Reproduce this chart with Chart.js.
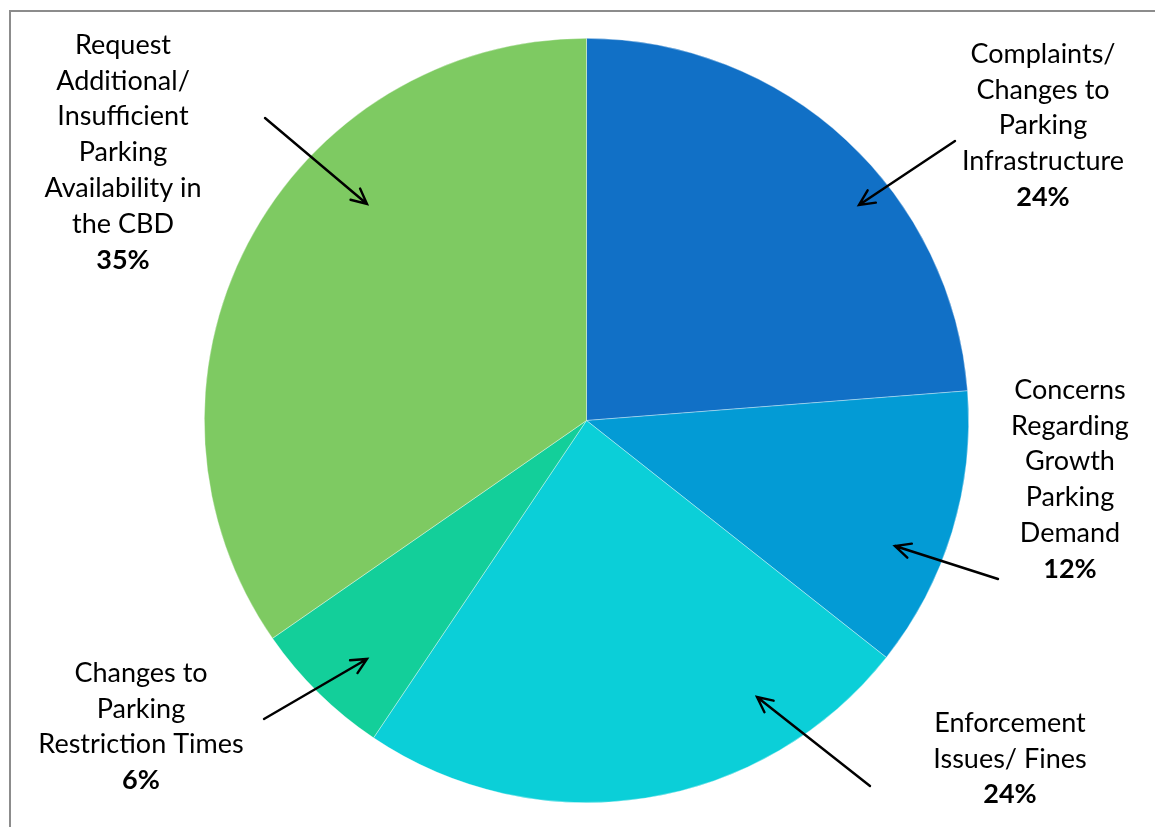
<!DOCTYPE html>
<html>
<head>
<meta charset="utf-8">
<title>Parking feedback</title>
<script src="https://cdn.jsdelivr.net/npm/chart.js@4/dist/chart.umd.min.js"></script>
<style>
  html, body { margin: 0; padding: 0; background: #fff; }
  #wrap { width: 1155px; height: 827px; position: relative; }
</style>
</head>
<body>
<div id="wrap"><canvas id="chart" width="1155" height="827"></canvas></div>
<script>
// categories (multi-line labels as drawn) and their shares
const categories = [
  ['Complaints/', 'Changes to', 'Parking', 'Infrastructure'],
  ['Concerns', 'Regarding', 'Growth', 'Parking', 'Demand'],
  ['Enforcement', 'Issues/ Fines'],
  ['Changes to', 'Parking', 'Restriction Times'],
  ['Request', 'Additional/', 'Insufficient', 'Parking', 'Availability in', 'the CBD']
];
const shares = [24, 12, 24, 6, 35];
const sliceColors = ['#1170C6', '#039BD5', '#0BCFD8', '#13CF9A', '#7ECA62'];

// where each callout text sits and where its arrow runs (tail -> head)
const callouts = [
  { x: 1043, y: 54,  tail: [955, 141], head: [859, 205] },
  { x: 1070, y: 390, tail: [998, 579], head: [895, 546] },
  { x: 1010, y: 723, tail: [870, 786], head: [757, 697] },
  { x: 141,  y: 673, tail: [264, 719], head: [367, 659] },
  { x: 123,  y: 45,  tail: [265, 118], head: [367, 204] }
];

const FONT = 'Lato, "Open Sans", sans-serif';
const FONT_PX = 27;
const LINE_H = 35.8;

function arrow(ctx, t, h) {
  const ang = Math.atan2(h[1] - t[1], h[0] - t[0]);
  const len = 17, spread = 0.45;
  ctx.beginPath();
  ctx.moveTo(t[0], t[1]);
  ctx.lineTo(h[0], h[1]);
  ctx.moveTo(h[0] - len * Math.cos(ang - spread), h[1] - len * Math.sin(ang - spread));
  ctx.lineTo(h[0], h[1]);
  ctx.lineTo(h[0] - len * Math.cos(ang + spread), h[1] - len * Math.sin(ang + spread));
  ctx.stroke();
}

const frame = {
  id: 'frame',
  beforeDraw(chart) {
    const ctx = chart.ctx;
    ctx.save();
    ctx.fillStyle = '#fff';
    ctx.fillRect(0, 0, chart.width, chart.height);
    ctx.strokeStyle = '#8c8c8c';
    ctx.lineWidth = 2;
    ctx.beginPath();
    ctx.moveTo(10, chart.height + 5);
    ctx.lineTo(10, 11);
    ctx.lineTo(chart.width + 5, 11);
    ctx.stroke();
    ctx.restore();
  }
};

const calloutLabels = {
  id: 'calloutLabels',
  afterDraw(chart) {
    const ctx = chart.ctx;
    const values = chart.data.datasets[0].data;
    ctx.save();
    ctx.textAlign = 'center';
    ctx.textBaseline = 'middle';
    ctx.fillStyle = '#000';
    ctx.strokeStyle = '#000';
    ctx.lineWidth = 2.4;
    ctx.lineCap = 'round';
    chart.data.labels.forEach((lines, i) => {
      const c = callouts[i];
      ctx.font = FONT_PX + 'px ' + FONT;
      lines.forEach((ln, k) => ctx.fillText(ln, c.x, c.y + k * LINE_H));
      ctx.font = 'bold ' + FONT_PX + 'px ' + FONT;
      ctx.fillText(values[i] + '%', c.x, c.y + lines.length * LINE_H);
      arrow(ctx, c.tail, c.head);
    });
    ctx.restore();
  }
};

const ctx = document.getElementById('chart').getContext('2d');
const myChart = new Chart(ctx, {
  type: 'pie',
  data: {
    labels: categories,
    datasets: [{
      data: shares,
      backgroundColor: sliceColors,
      borderColor: 'rgba(255,255,255,0.6)',
      borderWidth: 0.6
    }]
  },
  options: {
    responsive: false,
    animation: false,
    layout: { padding: { top: 38, bottom: 24, left: 18, right: 0 } },
    plugins: {
      legend: { display: false },
      tooltip: { enabled: false }
    }
  },
  plugins: [frame, calloutLabels]
});
</script>
</body>
</html>
